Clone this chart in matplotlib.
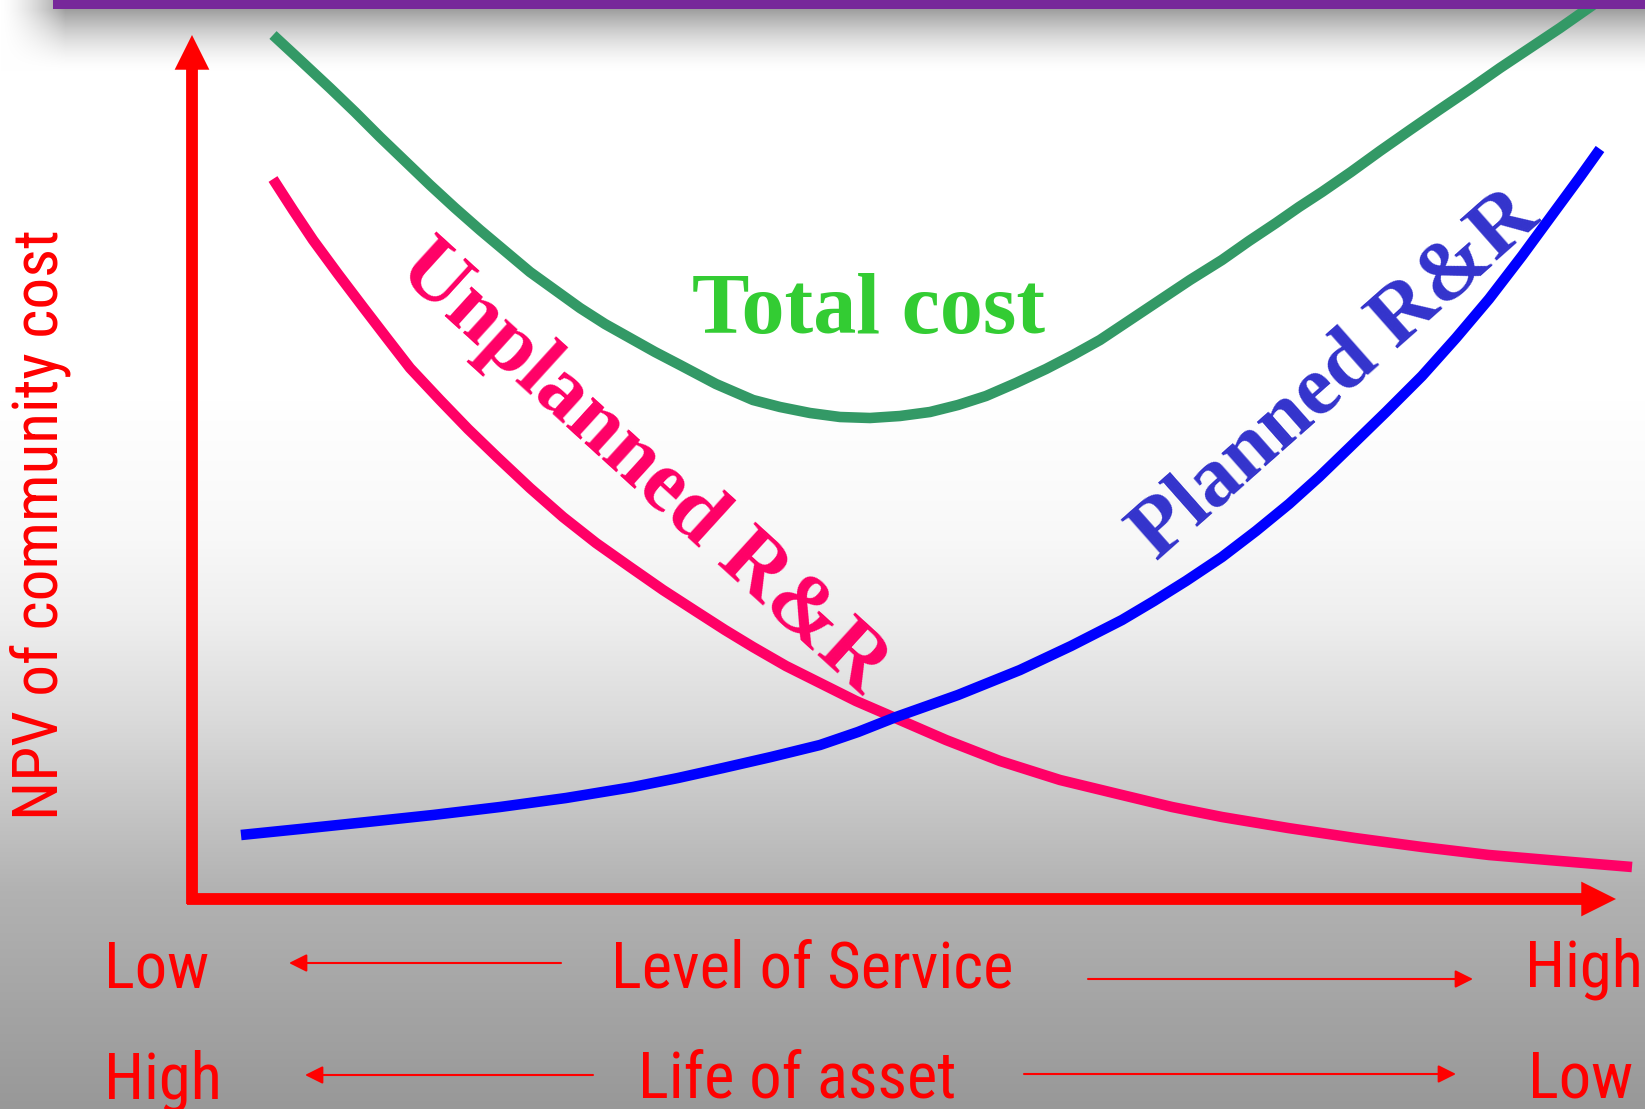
import numpy as np
import matplotlib
matplotlib.use("Agg")
import matplotlib.pyplot as plt
from matplotlib.patches import FancyArrowPatch, Rectangle

# curves: x = level of service (0 at the origin), y = NPV of cost
total_x = [81, 108, 138, 163, 188, 213, 238, 263, 288, 313, 338, 363, 388, 413, 438, 463,
           488, 524, 561, 588, 618, 648, 678, 708, 738, 766, 794, 824, 854, 881, 908, 938,
           968, 998, 1030, 1057, 1084, 1107, 1130, 1159, 1188, 1218, 1247, 1278, 1308,
           1338, 1368, 1408]
total_y = [864, 839, 811, 787, 762, 738, 714, 691, 669, 648, 627, 609, 591, 575, 561, 547,
           534, 515, 499, 492, 486, 482, 481, 483, 487, 494, 503, 516, 530, 544, 559, 579,
           599, 619, 639, 658, 676, 692, 707, 727, 748, 769, 789, 810, 831, 851, 871, 899]

unplanned_x = [81, 101, 121, 146, 171, 194, 218, 248, 276, 305, 338, 371, 404, 438, 471,
               505, 533, 561, 594, 628, 664, 701, 754, 808, 868, 930, 980, 1030, 1096,
               1163, 1230, 1297, 1368, 1440]
unplanned_y = [720, 689, 659, 625, 592, 562, 531, 499, 470, 442, 411, 382, 356, 332, 309,
               287, 269, 252, 233, 216, 198, 182, 159, 138, 119, 104, 92, 82, 71, 61, 52,
               44, 38, 32]

planned_x = [49, 108, 175, 241, 308, 374, 441, 486, 531, 579, 628, 666, 704, 766, 828, 879,
             930, 962, 994, 1030, 1064, 1097, 1127, 1157, 1194, 1230, 1264, 1297, 1330,
             1363, 1388, 1408]
planned_y = [64, 70, 77, 84, 92, 101, 112, 121, 131, 142, 154, 167, 182, 204, 229, 253,
             279, 298, 318, 342, 368, 395, 422, 451, 487, 523, 561, 600, 643, 688, 722, 750]

ylabel = "NPV of community cost"
row1 = ["Low", "Level of Service", "High"]
row2 = ["High", "Life of asset", "Low"]

W, H = 1645, 1109
fig = plt.figure(figsize=(W / 100, H / 100), dpi=100)

# background: white fading to grey, plus the soft shadow under the title bar
bg = fig.add_axes([0, 0, 1, 1])
bg.set_axis_off()
yy = np.arange(H)
xx = np.arange(W)
base = np.interp(yy, [0, 400, 540, 620, 720, 890, 1109],
                 [255, 255, 248, 238, 218, 178, 152]) / 255
fx = np.clip(xx / 65.0, 0, 1) ** 1.5
fy = np.clip(1 - (yy - 9) / 62.0, 0, 1) ** 1.6
img = base[:, None] * (1 - 0.38 * np.outer(fy, fx))
bg.imshow(np.dstack([img] * 3), extent=(0, W, H, 0), aspect="auto")
bg.set_xlim(0, W)
bg.set_ylim(H, 0)

fig.add_artist(Rectangle((53 / W, 1 - 9 / H), 1, 9 / H, transform=fig.transFigure,
                         color="#77289A", lw=0, zorder=10))

# chart axes: origin at the corner of the red arrows
ax = fig.add_axes([192 / W, (H - 899) / H, 1424 / W, 864 / H])
ax.set_xlim(0, 1424)
ax.set_ylim(0, 864)
ax.set_axis_off()
ax.patch.set_alpha(0)

lw = 7.6
ax.plot(total_x, total_y, color="#339966", lw=lw, solid_capstyle="butt",
        solid_joinstyle="round", clip_on=False)
ax.plot(unplanned_x, unplanned_y, color="#FF0066", lw=lw, solid_capstyle="butt",
        solid_joinstyle="round", clip_on=False)
ax.plot(planned_x, planned_y, color="#0000FF", lw=lw, solid_capstyle="butt",
        solid_joinstyle="round", clip_on=False)

big = "simple,head_length=1.0,head_width=1.0,tail_width=0.34"
ax.add_patch(FancyArrowPatch((0, -5), (0, 864), arrowstyle=big, mutation_scale=25,
                             color="red", lw=0, shrinkA=0, shrinkB=0, clip_on=False))
ax.add_patch(FancyArrowPatch((-5, 0), (1424, 0), arrowstyle=big, mutation_scale=25,
                             color="red", lw=0, shrinkA=0, shrinkB=0, clip_on=False))

serif = ["Liberation Serif", "DejaVu Serif"]
ax.text(677, 566, "Total cost", color="#33CC33", fontsize=62, fontweight="bold",
        family=serif, ha="center", va="baseline")
ax.text(450, 430, "Unplanned R&R", color="#FF0066", fontsize=62.5, fontweight="bold",
        family=serif, ha="center", va="center", rotation=-42.3, rotation_mode="anchor")
ax.text(1144, 522, "Planned R&R", color="#3333CC", fontsize=61.5, fontweight="bold",
        family=serif, ha="center", va="center", rotation=41.5, rotation_mode="anchor")

sans = ["Nimbus Sans Narrow", "Liberation Sans Narrow", "Roboto Condensed",
        "Archivo Narrow", "DejaVu Sans"]
ax.text(-152, 374, ylabel, color="red", fontsize=45.5, family=sans,
        rotation=90, ha="center", va="center")

y1, y2 = -88, -199
fs = 46.5
ax.text(-88, y1, row1[0], color="red", fontsize=fs, family=sans, ha="left", va="baseline")
ax.text(620, y1, row1[1], color="red", fontsize=fs, family=sans, ha="center", va="baseline")
ax.text(1333, y1, row1[2], color="red", fontsize=fs, family=sans, ha="left", va="baseline")
ax.text(-88, y2, row2[0], color="red", fontsize=fs, family=sans, ha="left", va="baseline")
ax.text(605, y2, row2[1], color="red", fontsize=fs, family=sans, ha="center", va="baseline")
ax.text(1336, y2, row2[2], color="red", fontsize=fs, family=sans, ha="left", va="baseline")

small = dict(arrowstyle="-|>,head_length=0.4,head_width=0.2", mutation_scale=27,
             lw=1.5, color="red", shrinkA=0, shrinkB=0)
ax.annotate("", xy=(97, -64), xytext=(369, -64), arrowprops=small, annotation_clip=False)
ax.annotate("", xy=(1281, -80), xytext=(896, -80), arrowprops=small, annotation_clip=False)
ax.annotate("", xy=(113, -176), xytext=(401, -176), arrowprops=small, annotation_clip=False)
ax.annotate("", xy=(1264, -175), xytext=(832, -175), arrowprops=small, annotation_clip=False)

fig.savefig("out.png", dpi=100)
